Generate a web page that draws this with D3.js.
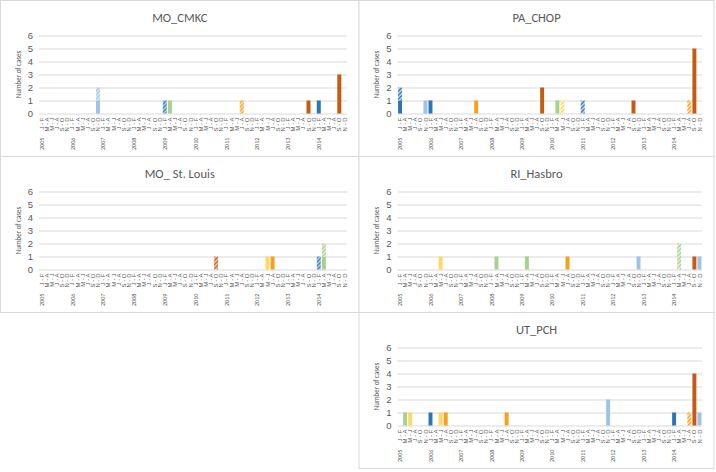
<!DOCTYPE html>
<html>
<head>
<meta charset="utf-8">
<script src="https://cdn.jsdelivr.net/npm/d3@7"></script>
<style>
  body { margin: 0; background: #fff; }
  svg { display: block; font-family: Carlito, "Liberation Sans Narrow", "Liberation Sans", Arial, sans-serif; }
</style>
</head>
<body>
<svg id="chart"></svg>
<script>
const W = 716, H = 472;

// categories: bimonthly periods within each year
const years = [2005, 2006, 2007, 2008, 2009, 2010, 2011, 2012, 2013, 2014];
const periods = ["J-F", "M-A", "M-J", "J-A", "S-O", "N-D"];
const yTicks = [0, 1, 2, 3, 4, 5, 6];

// stacked series (solid first, hatched variant above it)
const types = ["dkBlue", "dkBlueH", "ltBlue", "ltBlueH", "green", "greenH",
               "yellow", "yellowH", "orange", "orangeH", "dkOrange", "dkOrangeH"];

// [year, period, type, cases]
const moCmkc = [
  [2006, "N-D", "ltBlue", 1], [2006, "N-D", "ltBlueH", 1],
  [2009, "J-F", "dkBlueH", 1], [2009, "M-A", "green", 1],
  [2011, "J-A", "orangeH", 1], [2013, "S-O", "dkOrange", 1],
  [2014, "J-F", "dkBlue", 1], [2014, "S-O", "dkOrange", 3]
];
const paChop = [
  [2005, "J-F", "dkBlue", 1], [2005, "J-F", "dkBlueH", 1],
  [2005, "N-D", "ltBlue", 1], [2006, "J-F", "dkBlue", 1],
  [2007, "J-A", "orange", 1], [2009, "S-O", "dkOrange", 2],
  [2010, "M-A", "green", 1], [2010, "M-J", "yellowH", 1],
  [2011, "J-F", "dkBlueH", 1], [2012, "S-O", "dkOrange", 1],
  [2014, "J-A", "orangeH", 1], [2014, "S-O", "dkOrange", 5]
];
const moStLouis = [
  [2010, "S-O", "dkOrangeH", 1], [2012, "M-J", "yellow", 1],
  [2012, "J-A", "orange", 1], [2014, "J-F", "dkBlueH", 1],
  [2014, "M-A", "green", 1], [2014, "M-A", "greenH", 1]
];
const riHasbro = [
  [2006, "M-J", "yellow", 1], [2008, "M-A", "green", 1],
  [2009, "M-A", "green", 1], [2010, "J-A", "orange", 1],
  [2012, "N-D", "ltBlue", 1], [2014, "M-A", "greenH", 2],
  [2014, "S-O", "dkOrange", 1], [2014, "N-D", "ltBlue", 1]
];
const utPch = [
  [2005, "M-A", "green", 1], [2005, "M-J", "yellow", 1],
  [2006, "J-F", "dkBlue", 1], [2006, "M-J", "yellow", 1],
  [2006, "J-A", "orange", 1], [2008, "J-A", "orange", 1],
  [2011, "N-D", "ltBlue", 2], [2014, "J-F", "dkBlue", 1],
  [2014, "J-A", "orangeH", 1], [2014, "S-O", "dkOrange", 4],
  [2014, "N-D", "ltBlue", 1]
];

const sites = [
  {name: "MO_CMKC", data: moCmkc},
  {name: "PA_CHOP", data: paChop},
  {name: "MO_ St. Louis", data: moStLouis},
  {name: "RI_Hasbro", data: riHasbro},
  {name: "UT_PCH", data: utPch}
];

// panel placement
const panels = [
  {x: 0.5, y: 0.5, w: 358.5, h: 156},
  {x: 359, y: 0.5, w: 355, h: 156},
  {x: 0.5, y: 156.5, w: 358.5, h: 156},
  {x: 359, y: 156.5, w: 355, h: 156},
  {x: 359, y: 312.5, w: 355, h: 156}
];

const baseColor = {
  dkBlue: "#2E75B6", ltBlue: "#9DC3E6", green: "#A9D18E",
  yellow: "#FFD966", orange: "#F7A01C", dkOrange: "#C55A11"
};

const svg = d3.select("#chart").attr("width", W).attr("height", H);
const defs = svg.append("defs");

Object.keys(baseColor).forEach(function (k) {
  const p = defs.append("pattern")
    .attr("id", "hatch-" + k)
    .attr("patternUnits", "userSpaceOnUse")
    .attr("width", 4).attr("height", 4);
  p.append("rect").attr("width", 4).attr("height", 4).attr("fill", baseColor[k]);
  p.append("path")
    .attr("d", "M-1,1 l2,-2 M0,4 l4,-4 M3,5 l2,-2")
    .attr("stroke", "#fff").attr("stroke-width", 1.1);
});

function fillFor(type) {
  if (type.endsWith("H")) return "url(#hatch-" + type.slice(0, -1) + ")";
  return baseColor[type];
}

const categories = [];
years.forEach(function (yr) {
  periods.forEach(function (p) { categories.push(yr + "|" + p); });
});

const textColor = "#595959";
const gridColor = "#d9d9d9";

sites.forEach(function (site, i) {
  const pan = panels[i];
  const g = svg.append("g").attr("transform", "translate(" + pan.x + "," + pan.y + ")");

  g.append("rect")
    .attr("width", pan.w).attr("height", pan.h)
    .attr("fill", "#fff").attr("stroke", gridColor);

  const plotL = 38.5, plotR = pan.w - 12, top = 35, bottom = 113;

  const rows = categories.map(function (c) {
    const r = {cat: c};
    types.forEach(function (t) { r[t] = 0; });
    return r;
  });
  site.data.forEach(function (d) {
    const idx = categories.indexOf(d[0] + "|" + d[1]);
    rows[idx][d[2]] += d[3];
  });
  const stacked = d3.stack().keys(types)(rows);

  const x = d3.scaleBand().domain(categories).range([plotL, plotR]).paddingInner(0.22).paddingOuter(0.11);
  const y = d3.scaleLinear().domain([0, 6]).range([bottom, top]);

  // title
  g.append("text")
    .attr("x", pan.w / 2).attr("y", 21)
    .attr("text-anchor", "middle")
    .attr("font-size", 12.5)
    .attr("fill", textColor)
    .text(site.name);

  // gridlines
  const grid = g.append("g")
    .attr("transform", "translate(" + plotL + ",0)")
    .call(d3.axisLeft(y).tickValues(yTicks).tickSize(-(plotR - plotL)).tickFormat(""));
  grid.select(".domain").remove();
  grid.selectAll("line").attr("stroke", gridColor);

  // y labels
  const yAx = g.append("g")
    .attr("transform", "translate(" + (plotL - 6) + ",0)")
    .call(d3.axisLeft(y).tickValues(yTicks).tickSize(0).tickPadding(0).tickFormat(d3.format("d")));
  yAx.select(".domain").remove();
  yAx.selectAll("text")
    .attr("font-family", null)
    .attr("font-size", 9.5)
    .attr("fill", textColor);

  g.append("text")
    .attr("transform", "translate(20," + ((top + bottom) / 2) + ") rotate(-90)")
    .attr("text-anchor", "middle")
    .attr("font-size", 7)
    .attr("fill", textColor)
    .text("Number of cases");

  // bars
  g.selectAll("g.series")
    .data(stacked)
    .enter().append("g")
      .attr("class", "series")
      .attr("fill", function (s) { return fillFor(s.key); })
    .selectAll("rect")
    .data(function (s) { return s.filter(function (d) { return d[1] > d[0]; }); })
    .enter().append("rect")
      .attr("x", function (d) { return x(d.data.cat); })
      .attr("width", x.bandwidth())
      .attr("y", function (d) { return y(d[1]); })
      .attr("height", function (d) { return y(d[0]) - y(d[1]); });

  // category axis
  const xAx = g.append("g")
    .attr("transform", "translate(0," + bottom + ")")
    .call(d3.axisBottom(x).tickSize(0).tickPadding(0)
      .tickFormat(function (c) { return c.split("|")[1].replace("-", " - "); }));
  xAx.select(".domain").remove();
  xAx.selectAll("text")
    .attr("font-family", null)
    .attr("font-size", 6)
    .attr("fill", textColor)
    .attr("text-anchor", "end")
    .attr("dy", "0.35em")
    .attr("transform", "translate(0,4) rotate(-90)");

  // year labels
  g.selectAll("text.year")
    .data(years)
    .enter().append("text")
      .attr("class", "year")
      .attr("transform", function (yr) {
        return "translate(" + (x(yr + "|J-F") + x.bandwidth() / 2) + ",137) rotate(-90)";
      })
      .attr("text-anchor", "end")
      .attr("dy", "0.35em")
      .attr("font-size", 6.2)
      .attr("fill", textColor)
      .text(function (yr) { return yr; });
});
</script>
</body>
</html>
